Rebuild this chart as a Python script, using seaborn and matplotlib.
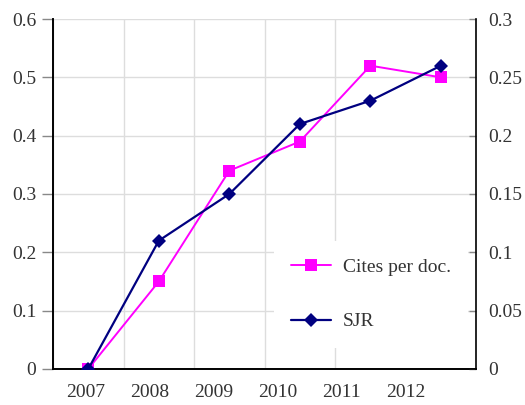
import matplotlib
matplotlib.use("Agg")
import matplotlib.pyplot as plt
import seaborn as sns
import numpy as np

# data
years = ["2007", "2008", "2009", "2010", "2011", "2012"]
cites_per_doc = [0.0, 0.15, 0.34, 0.39, 0.52, 0.50]
sjr = [0.0, 0.11, 0.15, 0.21, 0.23, 0.26]

sns.set_style("white")
plt.rcParams['font.family'] = ['Liberation Serif', 'DejaVu Serif']
plt.rcParams['font.size'] = 14
text_col = "#333333"

fig = plt.figure(figsize=(5.25, 4.05), dpi=100)
ax = fig.add_axes([0.101, 0.089, 0.806, 0.864])
ax2 = ax.twinx()

idx = np.arange(len(years))

sns.lineplot(ax=ax, x=idx, y=cites_per_doc, color="#ff00ff", marker="s",
             markersize=9, markeredgewidth=0, linewidth=1.4, label="Cites per doc.",
             legend=False, zorder=3)
sns.lineplot(ax=ax2, x=idx, y=sjr, color="#000080", marker="D",
             markersize=7, markeredgewidth=0, linewidth=1.6, label="SJR",
             legend=False, zorder=3)

ax.set_xlim(-0.5, len(years) - 0.5)
ax.set_ylim(0, 0.6)
ax2.set_ylim(0, 0.3)
ax.set_yticks(np.arange(0, 0.61, 0.1))
ax.set_yticklabels(["0"] + [f"{v:.1f}" for v in np.arange(0.1, 0.61, 0.1)])
ax2.set_yticks(np.arange(0, 0.301, 0.05))
ax2.set_yticklabels(["0", "0.05", "0.1", "0.15", "0.2", "0.25", "0.3"])

# category boundaries: grid + tick marks
ax.set_xticks(np.arange(-0.5, len(years)), minor=True)
# year labels (spaced a bit tighter than the categories, as in the reference)
ax.set_xticks(-0.04 + idx * 0.908)
ax.set_xticklabels(years)
ax.tick_params(axis="x", which="major", length=0, pad=11, labelcolor=text_col)
ax.tick_params(axis="x", which="minor", length=7, width=1, color="#888888",
               direction="inout")
ax.tick_params(axis="y", length=8, width=1, color="#888888", pad=4,
               labelcolor=text_col)
ax2.tick_params(axis="y", length=5, width=1, color="#888888", direction="in",
                pad=9, labelcolor=text_col)

ax.grid(axis="y", color="#dddddd", linewidth=1)
ax.grid(axis="x", which="minor", color="#dddddd", linewidth=1)
ax.set_axisbelow(True)

for a in (ax, ax2):
    a.spines["top"].set_visible(False)
    for s in ("left", "right", "bottom"):
        a.spines[s].set_color("black")
        a.spines[s].set_linewidth(1.2)
ax.spines["right"].set_visible(False)

h1, l1 = ax.get_legend_handles_labels()
h2, l2 = ax2.get_legend_handles_labels()
leg = ax2.legend(h1 + h2, l1 + l2, loc="lower right", bbox_to_anchor=(0.981, 0.06),
                 frameon=True, facecolor="white", edgecolor="none", framealpha=1,
                 fancybox=False, labelspacing=1.9, handlelength=2.05,
                 handletextpad=0.6, borderpad=0.9, borderaxespad=0, fontsize=14)
for t in leg.get_texts():
    t.set_color(text_col)

fig.savefig("out.png", dpi=100)
